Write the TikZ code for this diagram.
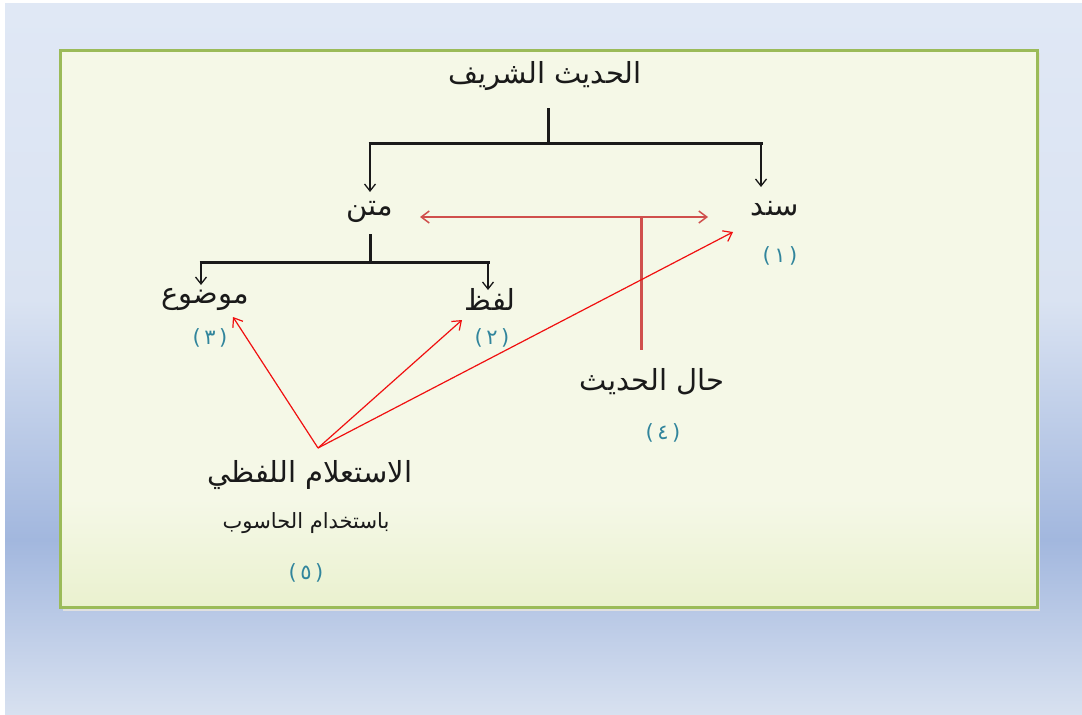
\documentclass[tikz,border=0pt]{standalone}
\usepackage{fontspec}
\newfontfamily\arabicfont[Script=Arabic]{DejaVu Sans}
\newfontfamily\numfont{DejaVu Sans}
\TeXXeTstate=1
\usetikzlibrary{arrows.meta,calc}
\definecolor{bgA}{HTML}{E0E8F5}
\definecolor{bgB}{HTML}{DAE3F2}
\definecolor{bgC}{HTML}{A2B7DE}
\definecolor{bgD}{HTML}{D8E1F0}
\definecolor{boxfill}{HTML}{F5F8E7}
\definecolor{boxfillB}{HTML}{EAF1CF}
\definecolor{boxline}{HTML}{9BBB59}
\definecolor{txt}{HTML}{1A1A1A}
\definecolor{num}{HTML}{31859C}
\definecolor{softred}{HTML}{D0504D}
\definecolor{brightred}{HTML}{F01010}
\tikzset{
  arlabel/.style={inner sep=0pt, text=txt, font=\arabicfont\fontsize{29}{34}\selectfont},
  arsmall/.style={inner sep=0pt, text=txt, font=\arabicfont\fontsize{21}{25}\selectfont},
  numlabel/.style={inner sep=0pt, text=num, font=\numfont\fontsize{21}{24}\selectfont},
  stem/.style={line width=3pt, draw=txt},
  bar/.style={line width=3pt, draw=txt},
  downarrow/.style={line width=1.3pt, draw=txt, -{Straight Barb[length=7pt,width=11pt,line width=1.3pt]}},
  redlink/.style={line width=1.2pt, draw=brightred, -{Straight Barb[length=8pt,width=12pt,line width=1.2pt]}},
  hallink/.style={line width=1.5pt, draw=softred, {Straight Barb[length=8pt,width=12pt]}-{Straight Barb[length=8pt,width=12pt]}},
  halstem/.style={line width=3pt, draw=softred}
}
\begin{document}
\begin{tikzpicture}[x=1pt,y=-1pt]
\useasboundingbox (0,0) rectangle (1082,715);
% background
\fill[white] (0,0) rectangle (1082,715);
\shade[top color=bgA, bottom color=bgB] (5,3) rectangle (1082,300);
\shade[top color=bgB, bottom color=bgC] (5,299.5) rectangle (1082,540);
\shade[top color=bgC, bottom color=bgD] (5,539.5) rectangle (1082,715);
% shadow + box
\fill[black!12] (63,53) rectangle (1040,611);
\fill[boxfill] (60,50) rectangle (1037,500);
\shade[top color=boxfill, bottom color=boxfillB] (60,499.5) rectangle (1037,607);
\draw[boxline, line width=3pt] (60,50) rectangle (1037,607);

% nodes
\node[arlabel] (hadith) at (545,76) {\beginR الحديث الشريف\endR};
\node[arlabel] (matn) at (370,212) {\beginR متن\endR};
\node[arlabel] (sanad) at (775,209) {\beginR سند\endR};
\node[numlabel] (n1) at (780,256) {(\,١\,)};
\node[arlabel] (lafz) at (490,299) {\beginR لفظ\endR};
\node[numlabel] (n2) at (492,338) {(\,٢\,)};
\node[arlabel] (mawdu) at (205,299) {\beginR موضوع\endR};
\node[numlabel] (n3) at (210,338) {(\,٣\,)};
\node[arlabel] (hal) at (652,382) {\beginR حال الحديث\endR};
\node[numlabel] (n4) at (663,433) {(\,٤\,)};
\node[arlabel] (istilam) at (310,475) {\beginR الاستعلام اللفظي\endR};
\node[arsmall] (hasub) at (306,523) {\beginR باستخدام الحاسوب\endR};
\node[numlabel] (n5) at (306,573) {(\,٥\,)};

% black tree
\coordinate (t0) at (548,108);
\coordinate (t1) at (548,143);
\coordinate (tl) at (370,143);
\coordinate (tr) at (761,143);
\draw[stem] (t0) -- (t1);
\draw[bar] ($(tl)+(-1.5,0)$) -- ($(tr)+(1.5,0)$);
\draw[downarrow] (tl) -- (370,192);
\draw[downarrow] (tr) -- (761,187);

\coordinate (m0) at (370,234);
\coordinate (m1) at (370,262);
\coordinate (ml) at (201,262);
\coordinate (mr) at (488,262);
\draw[stem] (m0) -- (m1);
\draw[bar] ($(ml)+(-1.5,0)$) -- ($(mr)+(1.5,0)$);
\draw[downarrow] (ml) -- (201,285);
\draw[downarrow] (mr) -- (488,290);

% hal al-hadith connectors
\coordinate (hl) at (420,217);
\coordinate (hr) at (708,217);
\coordinate (hj) at (641,217);
\coordinate (hb) at (641,350);
\draw[hallink] (hl) -- (hr);
\draw[halstem] (hj) -- (hb);

% istilam connectors
\coordinate (apex) at (318,448);
\draw[redlink] (apex) -- (233,317);
\draw[redlink] (apex) -- (462,320);
\draw[redlink] (apex) -- (733,232);
\end{tikzpicture}
\end{document}
